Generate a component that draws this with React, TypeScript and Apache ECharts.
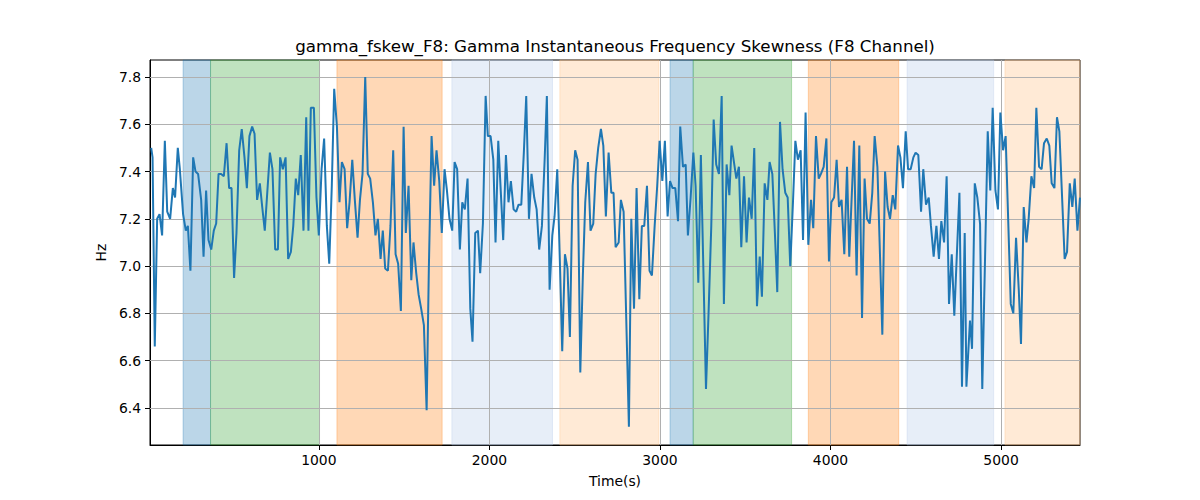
import React, { useEffect, useRef } from "react";
import * as echarts from "echarts";

const titleText = "gamma_fskew_F8: Gamma Instantaneous Frequency Skewness (F8 Channel)";
const xAxisName = "Time(s)";
const yAxisName = "Hz";

const xTicks = [1000, 2000, 3000, 4000, 5000];
const yTicks = [6.4, 6.6, 6.8, 7.0, 7.2, 7.4, 7.6, 7.8];
const xRange = [10, 5463];
const yRange = [6.243, 7.872];

const timeS = [
  17, 25, 38, 52, 66, 81, 97, 111, 128, 144, 157, 173, 185, 204, 220, 232, 247, 263, 277, 292,
  310, 324, 339, 353, 369, 384, 398, 412, 427, 443, 459, 474, 488, 503, 517, 533, 548, 564, 578, 593,
  609, 623, 638, 654, 668, 683,
  713, 728, 744, 760, 773, 789, 805, 820, 836, 850, 865, 879, 894, 910, 926, 939, 953, 971, 986, 1000,
  1016, 1031, 1047, 1061, 1076, 1090, 1106, 1121, 1135, 1151, 1166, 1180, 1196, 1211, 1227, 1241, 1256, 1272, 1287, 1301,
  1317, 1332, 1346, 1362,
  1375, 1389, 1405, 1420, 1436, 1450, 1465, 1481, 1497, 1510, 1526, 1542, 1555, 1571, 1585, 1600, 1616, 1632, 1645, 1661,
  1676, 1690, 1706, 1721, 1737, 1751, 1766, 1782, 1796, 1811, 1827, 1841, 1856, 1872, 1888, 1901, 1917, 1933, 1946, 1962,
  1978, 1991, 2007, 2023, 2036, 2052,
  2081, 2097, 2112, 2126, 2142, 2157, 2171, 2187, 2202, 2216, 2232, 2247, 2263, 2277, 2292, 2308, 2324, 2337, 2353, 2369,
  2382, 2398, 2414, 2427, 2443, 2458, 2472, 2488, 2503, 2517, 2533, 2548, 2562, 2578, 2593, 2609, 2623, 2638, 2654, 2668,
  2683, 2699, 2715, 2728, 2740,
  2758, 2771, 2787, 2818, 2832, 2848, 2863, 2879, 2894, 2908, 2924, 2939, 2953, 2969, 2984, 2998, 3014, 3029, 3045, 3059,
  3074, 3090, 3106, 3119, 3135, 3151, 3164, 3180, 3196, 3209, 3225, 3240, 3270, 3285, 3301, 3315, 3330, 3346, 3362, 3375,
  3391, 3407, 3420,
  3448, 3463, 3477, 3493, 3508, 3522, 3538, 3553, 3569, 3585, 3598, 3614, 3630, 3643, 3659, 3674, 3688, 3704, 3719, 3735,
  3749, 3764, 3780, 3794, 3809, 3825, 3839, 3854, 3870, 3886, 3899, 3915, 3931, 3944, 3960, 3976, 3991, 4005, 4021, 4036,
  4050, 4065, 4081, 4097, 4110,
  4138, 4153, 4169, 4185, 4200, 4214, 4230, 4245, 4259, 4275, 4304, 4320, 4335, 4349, 4365, 4380, 4396, 4410, 4425, 4441,
  4455, 4470, 4486, 4499, 4515, 4531, 4544, 4560, 4576, 4589, 4605, 4621, 4636, 4650, 4666, 4681, 4695, 4711, 4726, 4756,
  4771, 4787, 4797,
  4818, 4830, 4846, 4861, 4877, 4890, 4922, 4937, 4951, 4967, 4982, 4996, 5012, 5027, 5057, 5072, 5088, 5104, 5117, 5133,
  5149, 5162, 5178, 5194, 5207, 5223, 5238, 5252, 5268, 5283, 5297, 5313, 5328, 5342, 5373, 5387, 5403, 5418, 5432, 5448,
  5463,
];

const freqSkew = [
  7.50, 7.46, 6.66, 7.20, 7.22, 7.13, 7.53, 7.23, 7.20, 7.33, 7.29, 7.50, 7.41, 7.22, 7.15, 7.17, 6.98, 7.46, 7.40, 7.39,
  7.28, 7.04, 7.32, 7.11, 7.07, 7.15, 7.18, 7.39, 7.39, 7.38, 7.52, 7.33, 7.33, 6.95, 7.14, 7.49, 7.58, 7.46, 7.33, 7.55,
  7.59, 7.56, 7.28, 7.35, 7.25, 7.15,
  7.48, 7.41, 7.07, 7.07, 7.46, 7.41, 7.46, 7.03, 7.06, 7.17, 7.37, 7.30, 7.47, 7.15, 7.63, 7.15, 7.67, 7.67, 7.29, 7.13,
  7.41, 7.54, 7.17, 7.01, 7.34, 7.75, 7.59, 7.27, 7.44, 7.41, 7.16, 7.27, 7.45, 7.28, 7.12, 7.28, 7.39, 7.80, 7.39, 7.37,
  7.27, 7.13, 7.20, 7.03,
  7.15, 6.99, 6.98, 7.17, 7.49, 7.05, 7.01, 6.81, 7.59, 7.14, 7.34, 6.94, 7.10, 6.97, 6.88, 6.82, 6.75, 6.39, 6.99, 7.55,
  7.34, 7.49, 7.36, 7.14, 7.41, 7.32, 7.20, 7.15, 7.44, 7.41, 7.07, 7.27, 7.24, 7.37, 6.82, 6.68, 7.14, 7.15, 6.97, 7.18,
  7.72, 7.55, 7.55, 7.45, 7.10, 7.53,
  7.11, 7.47, 7.27, 7.36, 7.24, 7.23, 7.26, 7.26, 7.48, 7.72, 7.20, 7.39, 7.29, 7.24, 7.07, 7.17, 7.45, 7.72, 6.90, 7.13,
  7.21, 7.41, 7.00, 6.64, 7.05, 6.99, 6.70, 7.34, 7.49, 7.45, 6.55, 6.96, 7.27, 7.44, 7.15, 7.18, 7.39, 7.50, 7.58, 7.51,
  7.21, 7.48, 7.31, 7.31, 7.08,
  7.10, 7.28, 7.23, 6.32, 7.20, 6.82, 7.33, 6.86, 7.17, 7.17, 7.34, 6.98, 6.96, 7.17, 7.34, 7.53, 7.36, 7.53, 7.21, 7.36,
  7.33, 7.33, 7.19, 7.59, 7.42, 7.43, 7.13, 7.29, 7.48, 7.34, 6.93, 7.47, 6.48, 6.80, 7.17, 7.62, 7.43, 7.39, 7.72, 6.84,
  7.43, 7.30, 7.51,
  7.37, 7.42, 7.08, 7.38, 7.10, 7.29, 7.20, 7.50, 6.83, 7.04, 6.87, 7.35, 7.28, 7.44, 7.39, 7.14, 6.89, 7.61, 7.41, 7.31,
  7.29, 7.00, 7.27, 7.53, 7.45, 7.49, 7.11, 7.65, 7.09, 7.28, 7.16, 7.55, 7.37, 7.39, 7.42, 7.54, 7.02, 7.27, 7.29, 7.45,
  7.25, 7.28, 7.05, 7.42, 7.04,
  7.53, 6.96, 7.51, 6.78, 7.37, 7.20, 7.18, 7.31, 7.55, 7.42, 6.71, 7.40, 7.25, 7.20, 7.30, 7.24, 7.51, 7.46, 7.33, 7.57,
  7.41, 7.41, 7.46, 7.48, 7.47, 7.23, 7.41, 7.26, 7.29, 7.17, 7.04, 7.17, 7.03, 7.19, 7.10, 7.38, 6.84, 7.05, 6.79, 7.31,
  6.49, 7.14, 6.49,
  6.77, 6.65, 7.35, 7.29, 7.18, 6.48, 7.57, 7.32, 7.67, 7.32, 7.24, 7.65, 7.49, 7.55, 6.84, 6.80, 7.12, 6.90, 6.67, 7.25,
  7.10, 7.20, 7.38, 7.33, 7.67, 7.42, 7.41, 7.52, 7.54, 7.51, 7.35, 7.33, 7.63, 7.57, 7.03, 7.06, 7.35, 7.25, 7.37, 7.15,
  7.29,
];

const bandStarts = [204, 365, 1106, 1780, 2413, 3059, 3195, 3870, 4449, 5023];
const bandEnds = [365, 1004, 1723, 2370, 2994, 3195, 3772, 4400, 4957, 5463];
const bandKinds = ["blue", "green", "orange", "lightblue", "lightorange", "blue", "green", "orange", "lightblue", "lightorange"];

const bandColors: Record<string, string> = {
  blue: "rgba(31,119,180,0.3)",
  green: "rgba(44,160,44,0.3)",
  orange: "rgba(255,127,14,0.3)",
  lightblue: "rgba(174,199,232,0.3)",
  lightorange: "rgba(255,187,120,0.3)",
};

const FONT = "DejaVu Sans";

export default function App() {
  const ref = useRef<HTMLDivElement>(null);

  useEffect(() => {
    if (!ref.current) return;
    const chart = echarts.init(ref.current, undefined, { renderer: "svg" });
    const lineData = timeS.map((t, i) => [t, freqSkew[i]]);
    const areas = bandStarts.map((s, i) => [
      {
        xAxis: s,
        itemStyle: {
          color: bandColors[bandKinds[i]],
          borderColor: bandColors[bandKinds[i]],
          borderWidth: 1,
        },
      },
      { xAxis: bandEnds[i] },
    ]);
    const gridLines = [
      ...xTicks.map((v) => ({ xAxis: v })),
      ...yTicks.map((v) => ({ yAxis: v })),
    ];

    chart.setOption({
      animation: false,
      backgroundColor: "#fff",
      textStyle: { fontFamily: FONT },
      grid: {
        left: 150,
        right: 120,
        top: 60,
        bottom: 55,
        show: true,
        borderColor: "#000",
        borderWidth: 1,
        backgroundColor: "transparent",
      },
      graphic: [
        {
          type: "text",
          x: 615,
          y: 46,
          style: {
            text: titleText,
            fill: "#000",
            font: `16.7px "${FONT}"`,
            textAlign: "center",
            textVerticalAlign: "middle",
          },
        },
      ],
      xAxis: {
        type: "value",
        min: xRange[0],
        max: xRange[1],
        name: xAxisName,
        nameLocation: "middle",
        nameGap: 29,
        nameTextStyle: { color: "#000", fontSize: 13.9, fontFamily: FONT },
        axisLine: { show: true, lineStyle: { color: "#000", width: 1 } },
        axisTick: {
          show: true,
          length: 5,
          customValues: xTicks,
          lineStyle: { color: "#000", width: 1 },
        },
        axisLabel: {
          show: true,
          customValues: xTicks,
          margin: 8,
          color: "#000",
          fontSize: 13.9,
          fontFamily: FONT,
          formatter: (v: number) => String(Math.round(v)),
        },
        splitLine: { show: false },
      },
      yAxis: {
        type: "value",
        min: yRange[0],
        max: yRange[1],
        name: yAxisName,
        nameLocation: "middle",
        nameGap: 37,
        nameRotate: 90,
        nameTextStyle: { color: "#000", fontSize: 13.9, fontFamily: FONT },
        axisLine: { show: true, lineStyle: { color: "#000", width: 1 } },
        axisTick: {
          show: true,
          length: 5,
          customValues: yTicks,
          lineStyle: { color: "#000", width: 1 },
        },
        axisLabel: {
          show: true,
          customValues: yTicks,
          margin: 9,
          color: "#000",
          fontSize: 13.9,
          fontFamily: FONT,
          formatter: (v: number) => v.toFixed(1),
        },
        splitLine: { show: false },
      },
      series: [
        {
          type: "line",
          data: [],
          z: 1,
          silent: true,
          markArea: { silent: true, z: 1, data: areas },
        },
        {
          type: "line",
          data: [],
          z: 2,
          silent: true,
          markLine: {
            silent: true,
            z: 2,
            symbol: ["none", "none"],
            label: { show: false },
            lineStyle: { color: "#b0b0b0", width: 1, type: "solid" },
            emphasis: { disabled: true },
            data: gridLines,
          },
        },
        {
          type: "line",
          data: lineData,
          z: 3,
          showSymbol: false,
          symbol: "none",
          lineStyle: { color: "#1f77b4", width: 2 },
          itemStyle: { color: "#1f77b4" },
        },
      ],
    });
    return () => chart.dispose();
  }, []);

  return (
    <div
      ref={ref}
      style={{ position: "fixed", left: 0, top: 0, width: 1200, height: 500 }}
    />
  );
}
